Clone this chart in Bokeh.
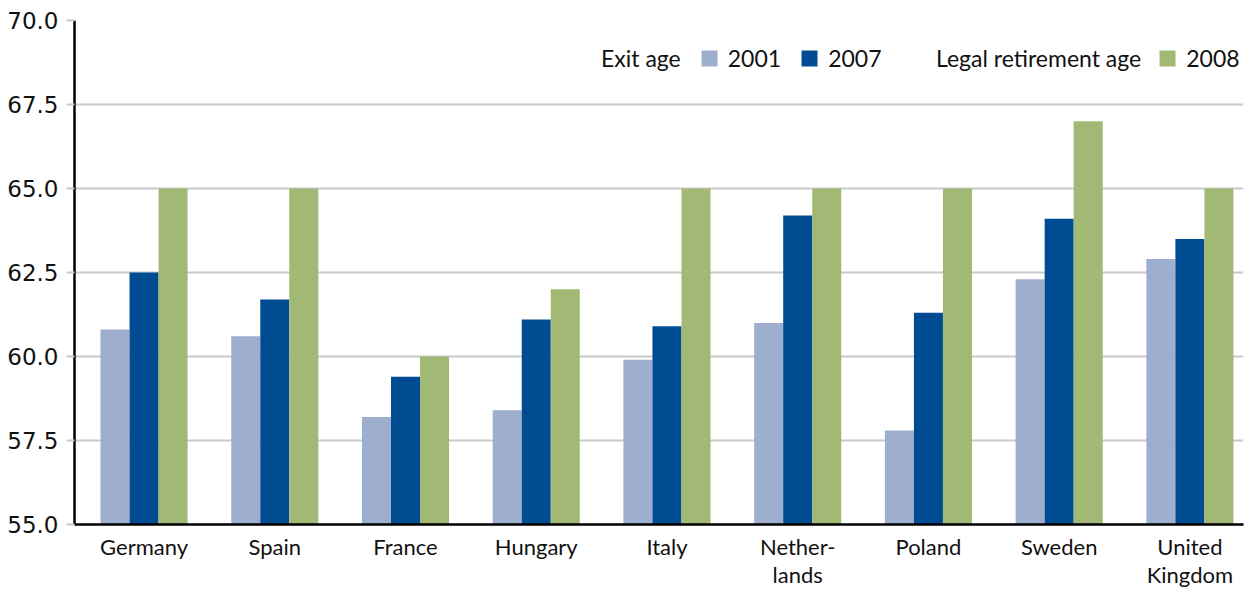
from bokeh.plotting import figure
from bokeh.models import (Legend, LegendItem, FixedTicker, PrintfTickFormatter,
                          ColumnDataSource)
from bokeh.transform import dodge
from bokeh.embed import file_html
from bokeh.resources import INLINE

countries = ["Germany", "Spain", "France", "Hungary", "Italy",
             "Nether-\nlands", "Poland", "Sweden", "United\nKingdom"]
exit_2001 = [60.8, 60.6, 58.2, 58.4, 59.9, 61.0, 57.8, 62.3, 62.9]
exit_2007 = [62.5, 61.7, 59.4, 61.1, 60.9, 64.2, 61.3, 64.1, 63.5]
legal_2008 = [65.0, 65.0, 60.0, 62.0, 65.0, 65.0, 65.0, 67.0, 65.0]
y_ticks = [55.0, 57.5, 60.0, 62.5, 65.0, 67.5, 70.0]

C_LIGHT = "#9EAECF"
C_DARK = "#004C92"
C_GREEN = "#A1B974"

idx = list(range(len(countries)))
src = ColumnDataSource(dict(x=idx, a=exit_2001, b=exit_2007, c=legal_2008))

p = figure(width=1248, height=590, output_backend="svg", toolbar_location=None,
           x_range=(-0.532, 8.41), y_range=(55, 70),
           min_border_left=74, min_border_right=5, min_border_top=20,
           min_border_bottom=60)
p.outline_line_color = None
p.background_fill_color = "white"

bw = 0.222
r1 = p.vbar(x=dodge("x", -bw, range=p.x_range), top="a", bottom=55, width=bw,
            source=src, fill_color=C_LIGHT, line_color=None)
r2 = p.vbar(x=dodge("x", 0.0, range=p.x_range), top="b", bottom=55, width=bw,
            source=src, fill_color=C_DARK, line_color=None)
r3 = p.vbar(x=dodge("x", bw, range=p.x_range), top="c", bottom=55, width=bw,
            source=src, fill_color=C_GREEN, line_color=None)
# invisible renderer used only for the legend group headings
blank = p.vbar(x=[], top=[], width=bw, fill_alpha=0, line_color=None)

# axes
p.xgrid.grid_line_color = None
p.ygrid.grid_line_color = "#CACACA"
p.ygrid.grid_line_width = 2
p.yaxis.ticker = FixedTicker(ticks=y_ticks)
p.yaxis.formatter = PrintfTickFormatter(format="%.1f")
p.yaxis.axis_line_color = "black"
p.yaxis.axis_line_width = 2.5
p.yaxis.major_tick_line_color = "#CACACA"
p.yaxis.major_tick_line_width = 2
p.yaxis.major_tick_out = 8
p.yaxis.major_tick_in = 0
p.yaxis.minor_tick_line_color = None
p.yaxis.major_label_text_font = "DejaVu Sans"
p.yaxis.major_label_text_font_size = "23px"
p.yaxis.major_label_text_color = "#111111"
p.yaxis.major_label_standoff = 8

p.xaxis.ticker = FixedTicker(ticks=idx)
p.xaxis.major_label_overrides = {i: c for i, c in zip(idx, countries)}
p.xaxis.axis_line_color = "black"
p.xaxis.axis_line_width = 2.5
p.xaxis.major_tick_line_color = None
p.xaxis.major_tick_out = 0
p.xaxis.major_tick_in = 0
p.xaxis.minor_tick_line_color = None
p.xaxis.minor_tick_out = 0
p.xaxis.major_label_text_font = "Lato"
p.xaxis.major_label_text_font_size = "22px"
p.xaxis.major_label_text_color = "#111111"
p.xaxis.major_label_text_line_height = 1.05
p.xaxis.major_label_standoff = 8

common = dict(padding=0, margin=0, border_line_color=None,
              background_fill_alpha=0, orientation="horizontal",
              glyph_width=20, glyph_height=20, label_standoff=9,
              label_text_font="Lato", label_text_font_size="23px",
              label_text_color="#111111", label_height=20)

leg1 = Legend(items=[LegendItem(label="Exit age", renderers=[blank]),
                     LegendItem(label="2001", renderers=[r1]),
                     LegendItem(label="2007", renderers=[r2])],
              location=(498, 452), spacing=18, **common)
leg2 = Legend(items=[LegendItem(label="Legal retirement age", renderers=[blank]),
                     LegendItem(label="2008", renderers=[r3])],
              location=(833, 452), spacing=16, **common)
p.add_layout(leg1, "center")
p.add_layout(leg2, "center")

open("out.html", "w").write(file_html(p, INLINE))
